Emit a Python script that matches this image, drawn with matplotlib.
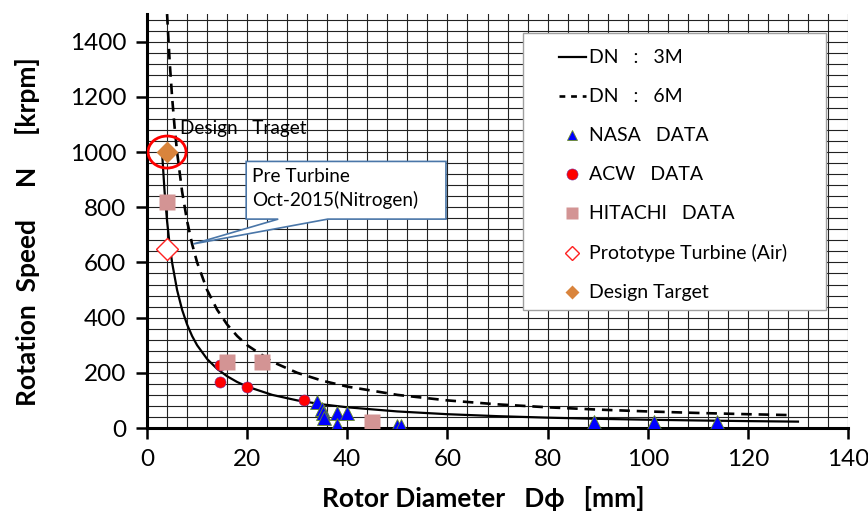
import matplotlib
matplotlib.use("Agg")
import matplotlib.pyplot as plt
from matplotlib.lines import Line2D
from matplotlib.patches import Ellipse, Polygon, Rectangle
import numpy as np

plt.rcParams['font.family'] = ['Lato', 'DejaVu Sans']

# DN = 3M curve (D [mm], N [krpm])
d_3m = [3, 3.5, 4, 4.5, 5, 6, 7, 8, 9, 10, 12, 14, 16, 18, 20, 25, 30, 35, 40,
        50, 60, 70, 80, 90, 100, 110, 120, 130]
n_3m = [1000, 857.1, 750, 666.7, 600, 500, 428.6, 375, 333.3, 300, 250, 214.3,
        187.5, 166.7, 150, 120, 100, 85.7, 75, 60, 50, 42.9, 37.5, 33.3, 30,
        27.3, 25, 23.1]
# DN = 6M curve
d_6m = [4, 4.5, 5, 5.5, 6, 7, 8, 9, 10, 12, 14, 16, 18, 20, 25, 30, 35, 40,
        50, 60, 70, 80, 90, 100, 110, 120, 128]
n_6m = [1500, 1333.3, 1200, 1090.9, 1000, 857.1, 750, 666.7, 600, 500, 428.6,
        375, 333.3, 300, 240, 200, 171.4, 150, 120, 100, 85.7, 75, 66.7, 60,
        54.5, 50, 46.9]

nasa_d = [33.9, 35.0, 35.2, 35.4, 37.9, 40.0, 37.9, 49.9, 50.8, 89.2, 101.3, 113.8]
nasa_n = [95, 68, 55, 38, 53, 53, 11, 8, 8, 23, 23, 23]

acw_d = [14.6, 14.6, 19.9, 31.4]
acw_n = [228, 168, 150, 101]

hitachi_d = [4.0, 15.9, 22.9, 44.9]
hitachi_n = [820, 240, 240, 23]

proto_d = [4.0]
proto_n = [650]

target_d = [4.0]
target_n = [1000]

x_ticks = [0, 20, 40, 60, 80, 100, 120, 140]
y_ticks = [0, 200, 400, 600, 800, 1000, 1200, 1400]

fig = plt.figure(figsize=(8.68, 5.21), dpi=100)
ax = fig.add_axes([0.1694, 0.1785, 0.8076, 0.7945])
ax.set_xlim(0, 140)
ax.set_ylim(0, 1500)

# grid
ax.set_xticks(np.arange(0, 141, 4), minor=True)
ax.set_yticks(np.arange(0, 1481, 40), minor=True)
ax.grid(which='minor', color='#222222', linewidth=0.8)
ax.grid(which='major', color='#222222', linewidth=0.8)
ax.set_axisbelow(True)
ax.tick_params(which='minor', length=0)
ax.set_xticks(x_ticks)
ax.set_yticks(y_ticks)
ax.tick_params(which='major', direction='out', length=8, width=1.8,
               labelsize=17.5, pad=7)
for s in ['top', 'right']:
    ax.spines[s].set_visible(False)
for s in ['left', 'bottom']:
    ax.spines[s].set_linewidth(2.2)

ax.plot(d_3m, n_3m, color='black', lw=1.6, zorder=3)
ax.plot(d_6m, n_6m, color='black', lw=1.9, dashes=(4, 2.6), zorder=3)

ax.plot(acw_d, acw_n, 'o', ms=8, mfc='#FF0000', mec='#7030A0', mew=0.4, zorder=4)
ax.plot(hitachi_d, hitachi_n, 's', ms=11, mfc='#D39494', mec='none', zorder=4)
ax.plot(nasa_d, nasa_n, '^', ms=10, mfc='#0000FF', mec='#6B8E23', mew=0.6, zorder=4)
ax.plot(proto_d, proto_n, 'D', ms=11, mfc='white', mec='#FF2020', mew=1.0, zorder=4)
ax.plot(target_d, target_n, 'D', ms=11, mfc='#D9843C', mec='none', zorder=5)
ax.add_patch(Ellipse((target_d[0], target_n[0]), 7.6, 116, fill=False,
                     edgecolor='#FF0000', lw=2.0, zorder=6))
ax.text(6.6, 1085, 'Design   Traget', fontsize=13.7, va='center', ha='left', zorder=6)

# callout
callout = Polygon([(19.8, 966), (59.7, 966), (59.7, 757), (36.1, 757),
                   (9.25, 667), (26.2, 757), (19.8, 757)], closed=True,
                  facecolor='white', edgecolor='#4A76A8', lw=1.2, zorder=7)
ax.add_patch(callout)
ax.text(21.0, 868, 'Pre Turbine\nOct-2015(Nitrogen)', fontsize=13.7,
        va='center', ha='left', linespacing=1.4, zorder=8)

ax.set_xlabel('Rotor Diameter   Dϕ   [mm]', fontsize=19, fontweight='bold')
ax.xaxis.set_label_coords(0.479, -0.14)
ax.set_ylabel('Rotation  Speed     N     [krpm]', fontsize=19, fontweight='bold')
ax.yaxis.set_label_coords(-0.152, 0.475)

# legend box
ax.add_patch(Rectangle((0.536, 0.285), 0.433, 0.669, transform=ax.transAxes,
                       facecolor='white', edgecolor='#A0A0A0', lw=1.0, zorder=9))
handles = [
    Line2D([], [], color='black', lw=1.6),
    Line2D([], [], color='black', lw=1.9, dashes=(2.2, 2.2)),
    Line2D([], [], ls='none', marker='^', ms=7, mfc='#0000FF', mec='#6B8E23', mew=0.6),
    Line2D([], [], ls='none', marker='o', ms=8, mfc='#FF0000', mec='#7030A0', mew=0.4),
    Line2D([], [], ls='none', marker='s', ms=9, mfc='#D39494', mec='none'),
    Line2D([], [], ls='none', marker='D', ms=7, mfc='white', mec='#FF2020', mew=1.0),
    Line2D([], [], ls='none', marker='D', ms=7, mfc='#D9843C', mec='none'),
]
labels = ['DN   :   3M', 'DN   :   6M', 'NASA   DATA', 'ACW   DATA',
          'HITACHI   DATA', 'Prototype Turbine (Air)', 'Design Target']
leg = ax.legend(handles, labels, loc='upper left', bbox_to_anchor=(0.565, 0.952),
                frameon=False, fontsize=14, handlelength=1.4, handletextpad=0.15,
                labelspacing=1.13, borderpad=0.3)
leg.set_zorder(10)

fig.savefig('out.png', dpi=100)
